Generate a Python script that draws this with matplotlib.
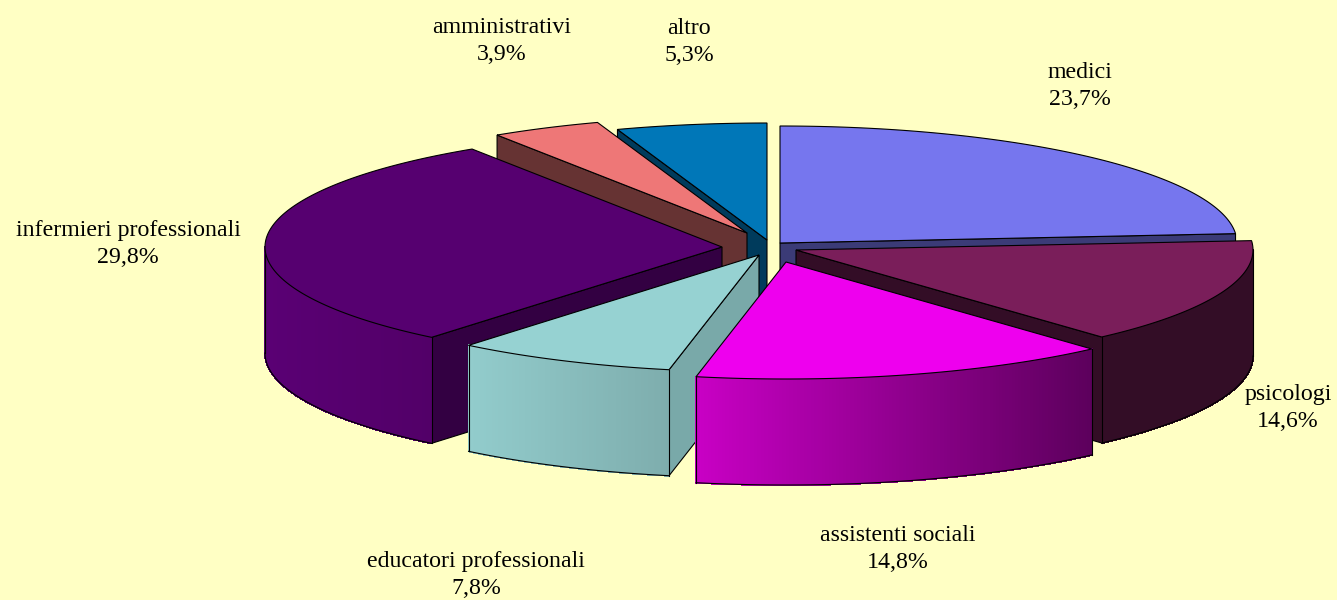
import numpy as np
import matplotlib
matplotlib.use('Agg')
import matplotlib.pyplot as plt
from matplotlib.colors import to_rgb
from matplotlib.patches import Polygon

# Data
categories = ['medici', 'psicologi', 'assistenti sociali', 'educatori professionali',
              'infermieri professionali', 'amministrativi', 'altro']
values = [23.7, 14.6, 14.8, 7.8, 29.8, 3.9, 5.3]

# Colours of each slice: top, cut faces, outer wall (left and right end of the gradient)
top_colors = ['#7676ee', '#7a1e5a', '#ee00ee', '#96d2d2', '#560070', '#ee7777', '#0077b8']
cut_colors = ['#3b3b77', '#330d26', '#660066', '#79a9a9', '#330042', '#663333', '#003b5c']
wall_left = ['#3b3b77', '#330d26', '#c800c4', '#92cccc', '#5a0074', '#663333', '#003b5c']
wall_right = ['#3b3b77', '#330d26', '#5c005c', '#7eadad', '#520068', '#663333', '#003b5c']

# Layout in pixels
center_x, center_y = 760, 250
radius_x, radius_y = 457, 117
depth = 106
explode_x = [20, 36, 26, -1, -38, -13, 7]
explode_y = [-7, 0, 12, 5, -3, -17, -10]
# back slices first
draw_order = [6, 5, 0, 4, 1, 3, 2]

label_x = [1080, 1288, 898, 476, 128, 502, 689]
label_y = [86, 408, 549, 575, 244, 41, 42]

plt.rcParams['font.family'] = ['Liberation Serif', 'DejaVu Serif']

background = '#ffffc4'
fig = plt.figure(figsize=(13.37, 6), dpi=100, facecolor=background)
ax = fig.add_axes([0, 0, 1, 1])
ax.set_xlim(0, 1337)
ax.set_ylim(600, 0)
ax.axis('off')

edges = np.cumsum([0] + values) / sum(values) * 2 * np.pi


def point(ox, oy, t):
    return ox + radius_x * np.sin(t), oy - radius_y * np.cos(t)


def draw_slice(i, z):
    ox = center_x + explode_x[i]
    oy = center_y + explode_y[i]
    t0, t1 = edges[i], edges[i + 1]

    # flat cut faces, only the ones turned to the viewer
    for t, visible in ((t0, np.sin(t0) < 0), (t1, np.sin(t1) > 0)):
        if visible:
            px, py = point(ox, oy, t)
            face = [(ox, oy), (px, py), (px, py + depth), (ox, oy + depth)]
            ax.add_patch(Polygon(face, closed=True, facecolor=cut_colors[i],
                                 edgecolor='black', linewidth=0.8, zorder=z))

    # outer wall, front half only, in strips for the gradient
    w0, w1 = max(t0, np.pi / 2), min(t1, 3 * np.pi / 2)
    if w1 > w0:
        t = np.linspace(w0, w1, 120)
        x, y = point(ox, oy, t)
        left = np.array(to_rgb(wall_left[i]))
        right = np.array(to_rgb(wall_right[i]))
        for k in range(len(t) - 1):
            f = ((x[k] + x[k + 1]) / 2 - x.min()) / (x.max() - x.min())
            strip = [(x[k], y[k]), (x[k + 1], y[k + 1]),
                     (x[k + 1], y[k + 1] + depth), (x[k], y[k] + depth)]
            color = left + (right - left) * f
            ax.add_patch(Polygon(strip, closed=True, facecolor=color, edgecolor=color,
                                 linewidth=0.8, antialiased=False, zorder=z + 0.1))
        ax.plot(x, y + depth, color='black', linewidth=0.8, zorder=z + 0.2)
        ax.plot([x[0], x[0]], [y[0], y[0] + depth], color='black', linewidth=0.8, zorder=z + 0.2)
        ax.plot([x[-1], x[-1]], [y[-1], y[-1] + depth], color='black', linewidth=0.8, zorder=z + 0.2)

    # top
    t = np.linspace(t0, t1, 120)
    x, y = point(ox, oy, t)
    top = np.column_stack([np.r_[ox, x], np.r_[oy, y]])
    ax.add_patch(Polygon(top, closed=True, facecolor=top_colors[i],
                         edgecolor='black', linewidth=0.8, zorder=z + 0.3))


for z, i in enumerate(draw_order):
    draw_slice(i, z + 1)

for name, val, lx, ly in zip(categories, values, label_x, label_y):
    text = name + '\n' + f'{val:.1f}%'.replace('.', ',')
    ax.text(lx, ly, text, ha='center', va='center', fontsize=17.2, color='black',
            linespacing=1.4, zorder=20)

fig.savefig('out.png', dpi=100, facecolor=background)
